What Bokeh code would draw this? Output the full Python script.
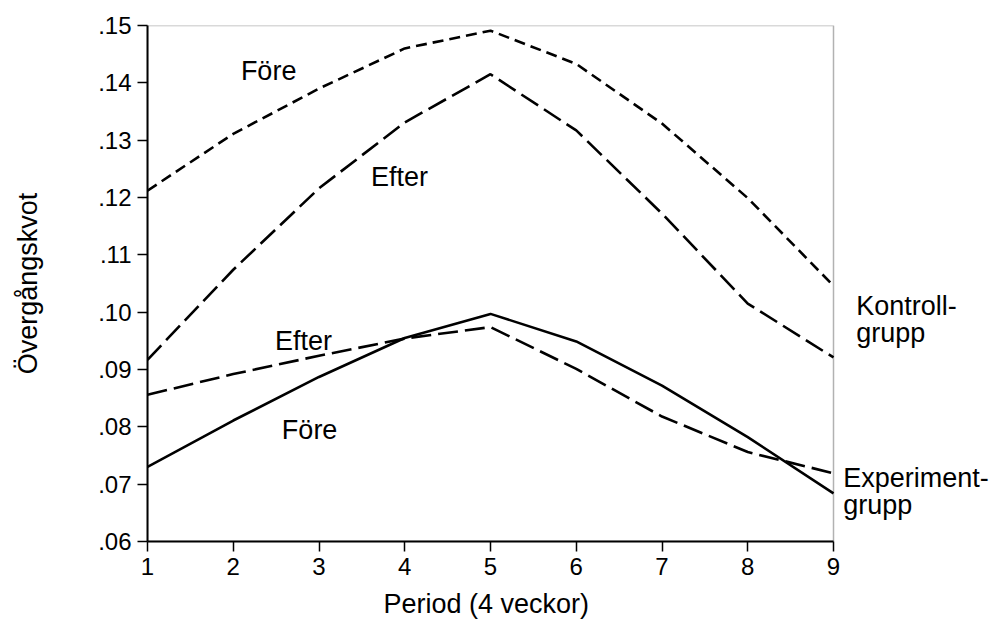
from bokeh.plotting import figure
from bokeh.models import Range1d, FixedTicker, Label, BoxAnnotation, Title
from bokeh.embed import file_html
from bokeh.resources import INLINE

# ---- data ----
periods = [1, 2, 3, 4, 5, 6, 7, 8, 9]
kontroll_fore = [0.1212, 0.1311, 0.1390, 0.1460, 0.1491, 0.1433, 0.1329, 0.1199, 0.1046]
kontroll_efter = [0.0917, 0.1074, 0.1216, 0.1331, 0.1415, 0.1317, 0.1172, 0.1015, 0.0921]
experiment_fore = [0.0730, 0.0811, 0.0887, 0.0955, 0.0997, 0.0949, 0.0872, 0.0782, 0.0684]
experiment_efter = [0.0856, 0.0892, 0.0924, 0.0954, 0.0974, 0.0901, 0.0818, 0.0756, 0.0719]

y_ticks = [0.06, 0.07, 0.08, 0.09, 0.10, 0.11, 0.12, 0.13, 0.14, 0.15]
y_tick_labels = [".06", ".07", ".08", ".09", ".10", ".11", ".12", ".13", ".14", ".15"]
x_ticks = [1, 2, 3, 4, 5, 6, 7, 8, 9]

x_title = "Period (4 veckor)"
y_title = "Övergångskvot"

FONT = "Liberation Sans"

X_MIN, X_MAX = 1, 9
Y_MIN, Y_MAX = 0.06, 0.15
BOX_W = 686                 # width of the drawn chart box in px
FRAME_W = 850               # frame extends right so side labels are not clipped
x_end = X_MAX + (FRAME_W - BOX_W) * (X_MAX - X_MIN) / BOX_W

p = figure(
    frame_width=FRAME_W, frame_height=516,
    min_border_left=147, min_border_right=0, min_border_top=25, min_border_bottom=80,
    x_range=Range1d(X_MIN, x_end), y_range=Range1d(Y_MIN, Y_MAX),
    output_backend="svg", toolbar_location=None,
    background_fill_color="white", border_fill_color="white",
)
p.grid.visible = False
p.outline_line_color = None

p.add_layout(BoxAnnotation(left=X_MIN, right=X_MAX, bottom=Y_MIN, top=Y_MAX,
                           fill_color=None, fill_alpha=0,
                           line_color="black", line_width=1.5))

for ax in (p.xaxis[0], p.yaxis[0]):
    ax.axis_line_width = 2
    ax.axis_line_color = "black"
    ax.major_tick_line_width = 1.5
    ax.major_tick_in = 0
    ax.major_tick_out = 10
    ax.minor_tick_line_color = None
    ax.major_label_text_font = FONT
    ax.major_label_text_font_size = "24px"
    ax.major_label_text_color = "black"
    ax.axis_label_text_font = FONT
    ax.axis_label_text_font_size = "27px"
    ax.axis_label_text_font_style = "normal"
    ax.axis_label_text_color = "black"

p.xaxis.bounds = (X_MIN, X_MAX)
p.xaxis.ticker = FixedTicker(ticks=x_ticks)
p.xaxis.major_label_standoff = 6

# x-axis title, centred under the chart box (not under the wider frame)
p.add_layout(Title(text=x_title, align="left", offset=236, standoff=18,
                   vertical_align="bottom",
                   text_font=FONT, text_font_size="27px", text_font_style="normal",
                   text_color="black"), "below")

p.yaxis.ticker = FixedTicker(ticks=y_ticks)
p.yaxis.major_label_overrides = {t: l for t, l in zip(y_ticks, y_tick_labels)}
p.yaxis.major_label_standoff = 6
p.yaxis.axis_label = y_title
p.yaxis.axis_label_standoff = 52

p.line(periods, kontroll_fore, line_color="black", line_width=2.6, line_dash="11 6")
p.line(periods, kontroll_efter, line_color="black", line_width=2.6, line_dash="20 7")
p.line(periods, experiment_fore, line_color="black", line_width=2.6)
p.line(periods, experiment_efter, line_color="black", line_width=2.6, line_dash="20 7")

def add_label(txt, x, y):
    p.add_layout(Label(x=x, y=y, text=txt, text_font=FONT, text_font_size="27px",
                       text_color="black", text_align="left", text_baseline="alphabetic"))

add_label("Före", 2.089, 0.14198)
add_label("Efter", 3.606, 0.12349)
add_label("Efter", 2.486, 0.09493)
add_label("Före", 2.567, 0.07948)
add_label("Kontroll-", 9.265, 0.10116)
add_label("grupp", 9.265, 0.09628)
add_label("Experiment-", 9.113, 0.07116)
add_label("grupp", 9.113, 0.06645)

open("out.html", "w").write(file_html(p, INLINE))
